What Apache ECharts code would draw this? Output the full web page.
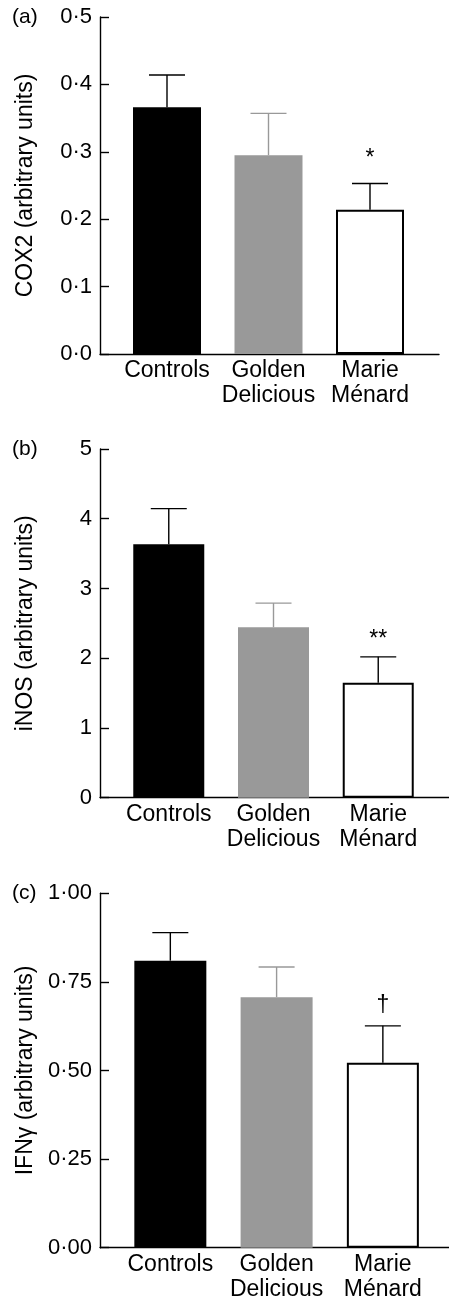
<!DOCTYPE html>
<html><head><meta charset="utf-8">
<script src="https://cdn.jsdelivr.net/npm/echarts@6/dist/echarts.min.js"></script>
<style>html,body{margin:0;padding:0;background:#fff}#c{width:449px;height:1301px}</style>
</head><body><div id="c"></div>
<script>
// ---- data ----
const categories = ['Controls', 'Golden\nDelicious', 'Marie\nMénard'];
const cox2Mean = [0.366, 0.295, 0.214];
const cox2Sem = [0.048, 0.062, 0.039];
const inosMean = [3.635, 2.445, 1.65];
const inosSem = [0.51, 0.345, 0.37];
const ifnMean = [0.81, 0.707, 0.522];
const ifnSem = [0.079, 0.085, 0.104];
const cox2Marks = ['', '', '*'];
const inosMarks = ['', '', '**'];
const ifnMarks = ['', '', '\u2020'];
const panelLetters = ['(a)', '(b)', '(c)'];
const yTitles = ['COX2 (arbitrary units)', 'iNOS (arbitrary units)', 'IFN\u03B3 (arbitrary units)'];
const yMax = [0.5, 5, 1];
const yStep = [0.1, 1, 0.25];
const yDecimals = [1, 0, 2];

// ---- layout / style ----
const FONT = '"Liberation Sans", Arial, Helvetica, sans-serif';
const barColors = ['#000000', '#999999', '#ffffff'];
const errColors = ['#000000', '#999999', '#000000'];
const layout = [
  {top: 17, bottom: 354, axisRight: 439, bandLeft: 116.25, bandRight: 420.75, barWidth: 68, markGap: 25},
  {top: 449, bottom: 797.7, axisRight: 449, bandLeft: 116.4, bandRight: 430.6, barWidth: 71, markGap: 17},
  {top: 893.3, bottom: 1247.7, axisRight: 449, bandLeft: 117.2, bandRight: 436, barWidth: 72, markGap: 20}
];
const panels = [
  {mean: cox2Mean, sem: cox2Sem, marks: cox2Marks},
  {mean: inosMean, sem: inosSem, marks: inosMarks},
  {mean: ifnMean, sem: ifnSem, marks: ifnMarks}
];

function errRenderer(marks, gap) {
  return function (params, api) {
    const i = api.value(0), m = api.value(1), s = api.value(2);
    const p0 = api.coord([i, m]);
    const p1 = api.coord([i, m + s]);
    const half = 18;
    const col = errColors[i];
    const children = [
      {type: 'line', shape: {x1: p0[0], y1: p0[1], x2: p1[0], y2: p1[1]}, style: {stroke: col, lineWidth: 1.4}},
      {type: 'line', shape: {x1: p1[0] - half, y1: p1[1], x2: p1[0] + half, y2: p1[1]}, style: {stroke: col, lineWidth: 1.4}}
    ];
    if (marks[i]) {
      children.push({type: 'text', x: p1[0], y: p1[1] - gap,
        style: {text: marks[i], fill: '#000', font: '23px ' + FONT, align: 'center', verticalAlign: 'middle'}});
    }
    return {type: 'group', children: children};
  };
}

const grid = [], xAxis = [], yAxis = [], series = [], graphic = [];
panels.forEach(function (p, k) {
  const L = layout[k];
  const h = L.bottom - L.top;
  grid.push({left: 100, width: L.axisRight - 100, top: L.top, height: h, containLabel: false, outerBoundsMode: 'none'});
  grid.push({left: L.bandLeft, width: L.bandRight - L.bandLeft, top: L.top, height: h, containLabel: false, outerBoundsMode: 'none'});
  const ga = 2 * k, gb = 2 * k + 1;
  xAxis.push({gridIndex: ga, type: 'value', min: 0, max: 1,
    axisLine: {show: true, lineStyle: {color: '#000', width: 1.4}},
    axisTick: {show: false}, axisLabel: {show: false}, splitLine: {show: false}});
  yAxis.push({gridIndex: ga, type: 'value', min: 0, max: yMax[k], interval: yStep[k],
    axisLine: {show: true, lineStyle: {color: '#000', width: 1.4}},
    axisTick: {show: true, inside: true, length: 9, lineStyle: {color: '#000', width: 1.4}},
    axisLabel: {fontSize: 22, fontFamily: FONT, color: '#000', margin: 8,
      formatter: function (v) { return v.toFixed(yDecimals[k]).replace('.', '\u00B7'); }},
    splitLine: {show: false},
    name: yTitles[k], nameLocation: 'middle', nameGap: 63,
    nameTextStyle: {fontSize: 23, fontFamily: FONT, color: '#000'}});
  xAxis.push({gridIndex: gb, type: 'category', data: categories,
    axisLine: {show: false}, axisTick: {show: false},
    axisLabel: {fontSize: 23, fontFamily: FONT, color: '#000', lineHeight: 25, margin: 4, interval: 0}});
  yAxis.push({gridIndex: gb, type: 'value', min: 0, max: yMax[k], show: false});
  series.push({type: 'bar', xAxisIndex: gb, yAxisIndex: gb, barWidth: L.barWidth,
    data: p.mean.map(function (v, i) {
      return {value: v, itemStyle: {color: barColors[i], borderColor: '#000', borderWidth: i === 2 ? 2 : 0}};
    }), z: 2, silent: true});
  series.push({type: 'custom', xAxisIndex: gb, yAxisIndex: gb,
    data: p.mean.map(function (v, i) { return [i, v, p.sem[i]]; }),
    renderItem: errRenderer(p.marks, L.markGap), z: 3, silent: true});
  graphic.push({type: 'text', x: 12, y: L.top,
    style: {text: panelLetters[k], fill: '#000', font: '21px ' + FONT, verticalAlign: 'middle'}});
});

const chart = echarts.init(document.getElementById('c'), null, {renderer: 'canvas'});
chart.setOption({
  animation: false,
  backgroundColor: '#fff',
  textStyle: {fontFamily: FONT},
  grid: grid, xAxis: xAxis, yAxis: yAxis, series: series, graphic: graphic
});
</script>
</body></html>
